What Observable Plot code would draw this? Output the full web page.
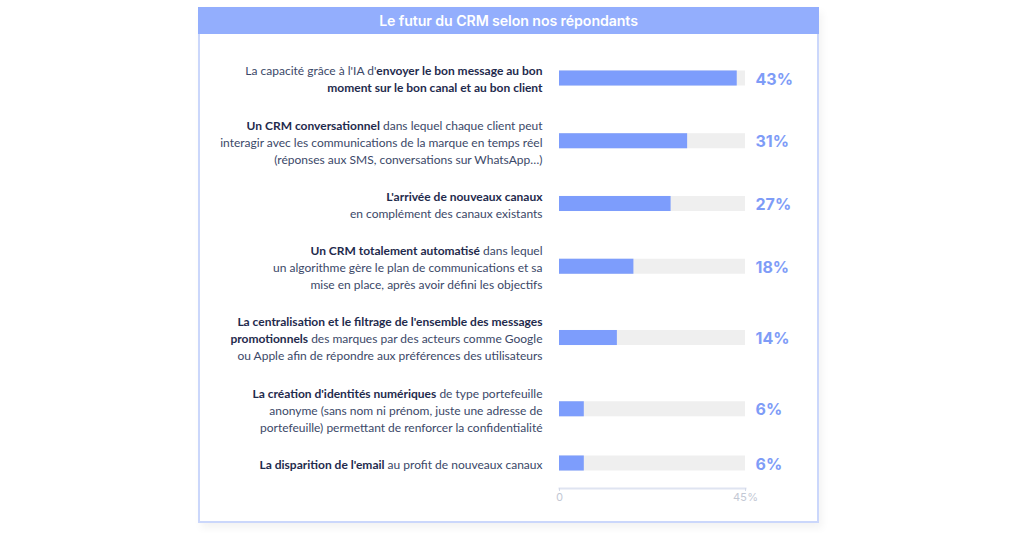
<!DOCTYPE html>
<html lang="fr">
<head>
<meta charset="utf-8">
<script src="https://cdn.jsdelivr.net/npm/d3@7"></script>
<script src="https://cdn.jsdelivr.net/npm/@observablehq/plot@0.6"></script>
<style>
  html, body { margin: 0; padding: 0; background: #ffffff; width: 1024px; height: 533px; overflow: hidden; }
  #card {
    position: absolute; left: 198px; top: 7px; width: 621px; height: 516px;
    box-sizing: border-box; border: 2px solid #cbd7fb; border-top: none; background: #ffffff;
    box-shadow: 3px 5px 8px rgba(0,0,0,0.05);
  }
  #title {
    margin: 0 -2px; height: 27px; line-height: 27px; background: #93aefd; color: #ffffff;
    font-family: Inter, "Noto Sans", sans-serif; font-size: 14.2px; font-weight: 600;
    text-align: center; letter-spacing: -0.1px;
  }
  #chart svg { display: block; }
</style>
</head>
<body>
<div id="card">
  <div id="title">Le futur du CRM selon nos répondants</div>
  <div id="chart"></div>
</div>
<script>
// Categories (labels; **...** marks bold parts)
const categories = [
  "La capacité grâce à l'IA d'**envoyer le bon message au bon**\n**moment sur le bon canal et au bon client**",
  "**Un CRM conversationnel** dans lequel chaque client peut\ninteragir avec les communications de la marque en temps réel\n(réponses aux SMS, conversations sur WhatsApp…)",
  "**L'arrivée de nouveaux canaux**\nen complément des canaux existants",
  "**Un CRM totalement automatisé** dans lequel\nun algorithme gère le plan de communications et sa\nmise en place, après avoir défini les objectifs",
  "**La centralisation et le filtrage de l'ensemble des messages**\n**promotionnels** des marques par des acteurs comme Google\nou Apple afin de répondre aux préférences des utilisateurs",
  "**La création d'identités numériques** de type portefeuille\nanonyme (sans nom ni prénom, juste une adresse de\nportefeuille) permettant de renforcer la confidentialité",
  "**La disparition de l'email** au profit de nouveaux canaux"
];
// Series values (percent of respondents)
const values = [43, 31, 27, 18, 14, 6, 6];
// Axis ticks
const tickValues = [0, 45];
const tickLabels = ["0", "45%"];
const axisMax = 45;

// Vertical layout derived from each label's line count (in "text line" units):
// rows are stacked like text blocks with a fixed gap between blocks.
const blockGap = 1.18;     // gap between label blocks, in lines
const barHalf = 7.5 / 17;  // half bar thickness, in lines
const lineCounts = categories.map(c => c.split("\n").length);
const slots = [];
lineCounts.forEach((n, i) => {
  slots.push(i === 0 ? 0 : slots[i - 1] + blockGap + (lineCounts[i - 1] + n) / 2);
});
const data = categories.map((c, i) => ({ label: c, value: values[i], slot: slots[i] }));

const textColor = "#3b4868";
const boldColor = "#1f2b4d";
const barColor = "#7d9dfc";
const trackColor = "#efefef";
const valueColor = "#7e9cf7";

const chart = Plot.plot({
  width: 617,
  height: 487,
  marginLeft: 359,
  marginRight: 72,
  marginTop: 12,
  marginBottom: 33,
  style: { fontFamily: "Inter, 'Noto Sans', sans-serif", background: "transparent" },
  x: { domain: [0, axisMax], axis: null },
  y: { type: "linear", domain: [0, slots[slots.length - 1]], range: [44, 429], axis: null },
  marks: [
    Plot.rect(data, { x1: () => 0, x2: () => axisMax, y1: d => d.slot - barHalf, y2: d => d.slot + barHalf, fill: trackColor }),
    Plot.rect(data, { x1: () => 0, x2: "value", y1: d => d.slot - barHalf, y2: d => d.slot + barHalf, fill: barColor }),
    Plot.text(data, {
      x: () => 0, y: "slot", text: "label", dx: -17, textAnchor: "end",
      lineAnchor: "middle", lineHeight: 1.42, fontSize: 12, fontFamily: "Lato, 'Noto Sans', sans-serif",
      fill: textColor, className: "cat-label"
    }),
    Plot.text(data, {
      x: () => axisMax, y: "slot", text: d => d.value + "%", dx: 10, dy: 1, textAnchor: "start",
      fontSize: 16, fontWeight: 700, fill: valueColor
    }),
    Plot.frame({ anchor: "bottom", stroke: "#dfe4f1", strokeWidth: 2 }),
    Plot.axisX({
      ticks: tickValues, tickFormat: d => tickLabels[tickValues.indexOf(d)], label: null,
      tickSize: 3, tickPadding: 2, fontSize: 11, color: "#c3c8d4", stroke: "#d3d9e8"
    })
  ]
});

// Turn **bold** markup into bold tspans (text stays real text)
const svgns = "http://www.w3.org/2000/svg";
function richify(node) {
  const s = node.textContent;
  if (!s.includes("**")) return;
  node.textContent = "";
  s.split("**").forEach((part, i) => {
    if (!part) return;
    const t = document.createElementNS(svgns, "tspan");
    if (i % 2 === 1) { t.setAttribute("font-weight", "700"); t.setAttribute("fill", boldColor); }
    t.textContent = part;
    node.appendChild(t);
  });
}
chart.querySelectorAll(".cat-label text").forEach(text => {
  const lines = text.querySelectorAll("tspan");
  if (lines.length) lines.forEach(richify); else richify(text);
});

document.getElementById("chart").appendChild(chart);
</script>
</body>
</html>
